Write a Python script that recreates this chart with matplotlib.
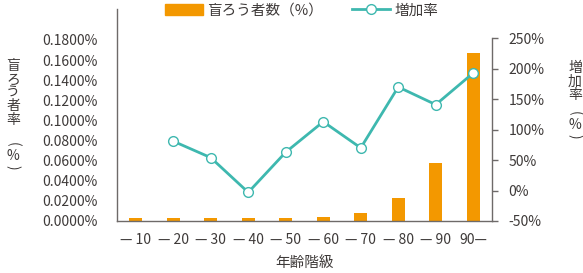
import matplotlib
matplotlib.use("Agg")
import matplotlib.pyplot as plt
from matplotlib.lines import Line2D
from matplotlib.patches import Patch
from matplotlib.ticker import FuncFormatter

plt.rcParams['font.family'] = ['Noto Sans CJK JP', 'DejaVu Sans']

# data
age_labels = ['— 10', '— 20', '— 30', '— 40', '— 50', '— 60', '— 70', '— 80', '— 90', '90—']
deafblind_rate = [0.0030, 0.0030, 0.0030, 0.0030, 0.0030, 0.0042, 0.0083, 0.0232, 0.0574, 0.1675]
growth_rate = [None, 81, 54, -3, 63, 113, 70, 170, 141, 193]

ORANGE = '#f39800'
TEAL = '#3eb8af'
TEXT = '#3e3a39'
SPINE = '#6e6a69'

W, H = 583, 273
fig = plt.figure(figsize=(W / 100, H / 100), dpi=100)
ax = fig.add_axes([117 / W, 52 / H, 375 / W, 212 / H])
ax2 = ax.twinx()

x = list(range(len(age_labels)))
ax.bar(x, deafblind_rate, width=0.35, color=ORANGE, zorder=2)

gx = [i for i, v in zip(x, growth_rate) if v is not None]
gy = [v for v in growth_rate if v is not None]
ax2.plot(gx, gy, color=TEAL, lw=2.0, marker='o', ms=7, mfc='white',
         mec=TEAL, mew=1.0, zorder=3)

ax.set_xlim(-0.5, len(age_labels) - 0.5)
ax.set_ylim(0, 0.2108)
ax.set_yticks([i * 0.02 for i in range(10)])
ax.yaxis.set_major_formatter(FuncFormatter(lambda v, p: f'{v:.4f}%'))
ax.set_xticks(x)
ax.set_xticklabels(age_labels)

ax2.set_ylim(-50, 298)
ax2.set_yticks(range(-50, 251, 50))
ax2.yaxis.set_major_formatter(FuncFormatter(lambda v, p: f'{v:.0f}%'))
ax2.spines['right'].set_bounds(-50, 250)

for a in (ax, ax2):
    a.spines['top'].set_visible(False)
    for s in a.spines.values():
        s.set_color(SPINE)
        s.set_linewidth(1.0)
ax.spines['right'].set_visible(False)
ax2.spines['left'].set_visible(False)
ax2.spines['bottom'].set_visible(False)

ax.tick_params(axis='y', length=0, pad=14, labelsize=10, labelcolor=TEXT)
ax.tick_params(axis='x', length=0, pad=9, labelsize=10, labelcolor=TEXT)
ax2.tick_params(axis='y', length=4, width=1, color=SPINE, pad=8,
                labelsize=10, labelcolor=TEXT)

ax.set_xlabel('年齢階級', fontsize=10.5, color=TEXT, labelpad=6)


def vertical_label(chars, xc, ys):
    # stacked (tategaki) axis title, one glyph per row;
    # brackets are turned a quarter so they read as vertical brackets
    for ch, yc in zip(chars, ys):
        rot = -90 if ch in '()' else 0
        fig.text(xc / W, 1 - yc / H, ch, ha='center', va='center',
                 fontsize=10, color=TEXT, rotation=rot,
                 rotation_mode='anchor')


vertical_label(['盲', 'ろ', 'う', '者', '率', '(', '%', ')'], 13,
               [66, 79.5, 93, 106.5, 120, 144, 156, 167])
vertical_label(['増', '加', '率', '(', '%', ')'], 575,
               [68, 81.5, 95, 113, 125, 136])

handles = [Patch(color=ORANGE, label='盲ろう者数（%）'),
           Line2D([], [], color=TEAL, lw=2.0, marker='o', ms=7, mfc='white',
                  mec=TEAL, mew=1.0, label='増加率')]
fig.legend(handles=handles, ncol=2, loc='upper center',
           bbox_to_anchor=(0.517, 1.035), frameon=False, fontsize=10.5,
           labelcolor=TEXT, handlelength=2.6, handleheight=0.7,
           columnspacing=2.0, handletextpad=0.3)

fig.savefig('out.png', dpi=100)
